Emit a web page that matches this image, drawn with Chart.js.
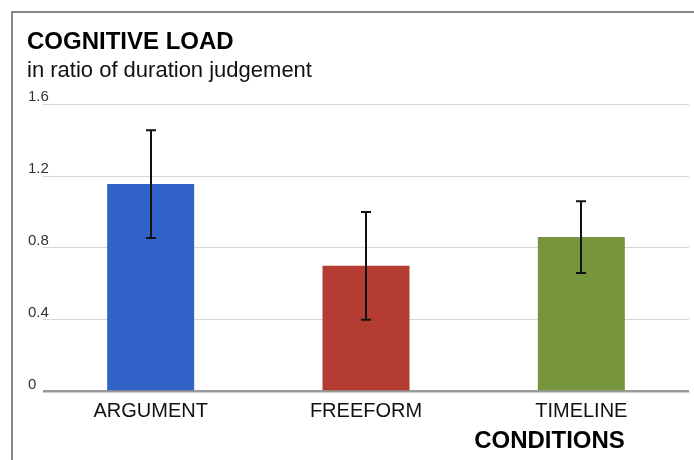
<!DOCTYPE html>
<html>
<head>
<meta charset="utf-8">
<script src="https://cdn.jsdelivr.net/npm/chart.js@4"></script>
<style>
  html, body { margin: 0; padding: 0; background: #fff; }
  #frame {
    position: absolute; left: 11px; top: 11px; right: 0; bottom: 0;
    border-left: 2px solid #878787; border-top: 2px solid #878787;
  }
  #wrap { position: absolute; left: 0; top: 0; width: 694px; height: 460px; }
</style>
</head>
<body>
<div id="frame"></div>
<div id="wrap"><canvas id="chart"></canvas></div>
<script>
// Cognitive load per condition, with error bars
const conditions = ["ARGUMENT", "FREEFORM", "TIMELINE"];
const loadValues = [1.155, 0.70, 0.86];
const errLow = [0.855, 0.40, 0.66];
const errHigh = [1.455, 1.00, 1.06];
const barColors = ["#3162c8", "#b43c33", "#77953d"];
const yTicks = [0, 0.4, 0.8, 1.2, 1.6];
const yTickLabels = ["0", "0.4", "0.8", "1.2", "1.6"];

const FONT = "'Liberation Sans', Arial, sans-serif";

// draws the error bars from the y scale
const errorBars = {
  id: "errorBars",
  afterDatasetsDraw(chart) {
    const ctx = chart.ctx;
    const yScale = chart.scales.y;
    const meta = chart.getDatasetMeta(0);
    ctx.save();
    ctx.strokeStyle = "#111";
    ctx.lineWidth = 2;
    meta.data.forEach((bar, i) => {
      const x = Math.round(bar.x);
      const yLo = yScale.getPixelForValue(errLow[i]);
      const yHi = yScale.getPixelForValue(errHigh[i]);
      ctx.beginPath();
      ctx.moveTo(x, yLo);
      ctx.lineTo(x, yHi);
      ctx.moveTo(x - 5, yHi);
      ctx.lineTo(x + 5, yHi);
      ctx.moveTo(x - 5, yLo);
      ctx.lineTo(x + 5, yLo);
      ctx.stroke();
    });
    ctx.restore();
  }
};

// x axis title, right edge lined up with the last bar
const axisTitle = {
  id: "axisTitle",
  afterDraw(chart) {
    const ctx = chart.ctx;
    const meta = chart.getDatasetMeta(0);
    const last = meta.data[meta.data.length - 1];
    ctx.save();
    ctx.font = "bold 24px " + FONT;
    ctx.fillStyle = "#000";
    ctx.textAlign = "right";
    ctx.textBaseline = "alphabetic";
    ctx.fillText("CONDITIONS", last.x + last.width / 2, 448);
    ctx.restore();
  }
};

const chart = new Chart(document.getElementById("chart"), {
  type: "bar",
  data: {
    labels: conditions,
    datasets: [{
      data: loadValues,
      backgroundColor: barColors,
      barPercentage: 0.404,
      categoryPercentage: 1
    }]
  },
  options: {
    responsive: true,
    maintainAspectRatio: false,
    animation: false,
    layout: { padding: { left: 27, right: 5, top: 28, bottom: 28.5 } },
    plugins: {
      legend: { display: false },
      tooltip: { enabled: false },
      title: {
        display: true,
        text: "COGNITIVE LOAD",
        align: "start",
        color: "#000",
        font: { family: FONT, size: 24, weight: "bold", lineHeight: 1.2 },
        padding: { top: 0, bottom: 0 }
      },
      subtitle: {
        display: true,
        text: "in ratio of duration judgement",
        align: "start",
        color: "#111",
        font: { family: FONT, size: 22, lineHeight: 1.2 },
        padding: { top: 1, bottom: 20 }
      }
    },
    scales: {
      x: {
        grid: { display: false, drawTicks: false },
        border: { display: false },
        ticks: { color: "#111", font: { family: FONT, size: 20 }, padding: 8 }
      },
      y: {
        min: 0,
        max: 1.6,
        afterBuildTicks: (scale) => { scale.ticks = yTicks.map(v => ({ value: v })); },
        afterFit: (scale) => { scale.width = 16; },
        border: { display: false },
        grid: {
          drawTicks: false,
          color: (c) => c.tick && c.tick.value === 0 ? "#999" : "#d6d6d6",
          lineWidth: (c) => c.tick && c.tick.value === 0 ? 2.5 : 1
        },
        ticks: {
          mirror: true,
          crossAlign: "near",
          padding: -15,
          labelOffset: -7,
          color: "#333",
          font: { family: FONT, size: 15 },
          callback: (v) => yTickLabels[yTicks.indexOf(v)]
        }
      }
    }
  },
  plugins: [errorBars, axisTitle]
});
</script>
</body>
</html>
